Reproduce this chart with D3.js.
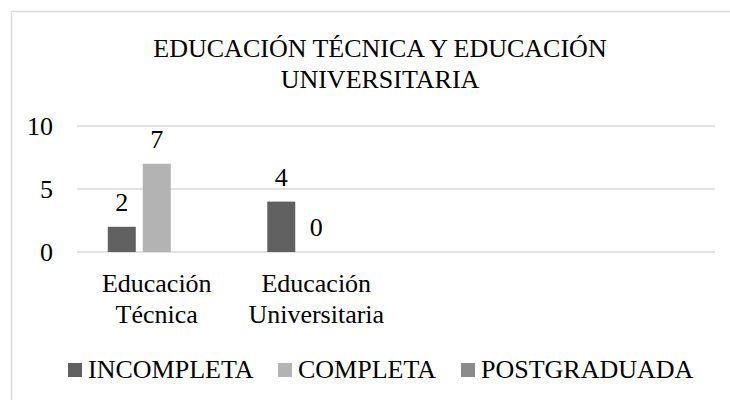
<!DOCTYPE html>
<html>
<head>
<meta charset="utf-8">
<script src="https://cdn.jsdelivr.net/npm/d3@7"></script>
</head>
<body style="margin:0">
<script>
// data
var titleLines = ['EDUCACIÓN TÉCNICA Y EDUCACIÓN', 'UNIVERSITARIA'];
var categories = ['Educación Técnica', 'Educación Universitaria', '', ''];
var seriesNames = ['INCOMPLETA', 'COMPLETA', 'POSTGRADUADA'];
var incompleta = [2, 4, null, null];
var completa = [7, 0, null, null];
var postgraduada = [null, null, null, null];
var yTicks = [0, 5, 10];

var seriesColors = ['#606060', '#b3b3b3', '#8b8b8b'];
var seriesValues = [incompleta, completa, postgraduada];

var width = 730;
var height = 400;
var fontSize = '26px';
var fontFamily = '"Liberation Serif"';

var svg = d3.select('body').append('svg')
  .attr('width', width)
  .attr('height', height);

// put the serif font on every text element
function serif(sel) {
  sel.attr('font-family', 'Liberation Serif')
    .style('font-family', fontFamily)
    .style('font-size', fontSize);
}

// chart frame (cropped on the right like the original)
svg.append('rect')
  .attr('x', 11.5)
  .attr('y', 11.5)
  .attr('width', 737)
  .attr('height', 400)
  .style('fill', '#fff')
  .style('stroke', '#d9d9d9')
  .style('stroke-width', 1.5);

var centerX = 11.5 + 737 / 2;

// title
svg.selectAll('text.title')
  .data(titleLines)
  .enter()
  .append('text')
  .attr('class', 'title')
  .attr('x', centerX)
  .attr('y', function (d, i) { return 57 + i * 31; })
  .attr('text-anchor', 'middle')
  .call(serif)
  .text(function (d) { return d; });

var plot = { left: 77, right: 715, top: 126, bottom: 252 };

var y = d3.scaleLinear()
  .domain([0, 10])
  .range([plot.bottom, plot.top]);

var x0 = d3.scaleBand()
  .domain(d3.range(categories.length))
  .range([plot.left, plot.right]);

var x1 = d3.scaleBand()
  .domain(seriesNames)
  .range([0, x0.bandwidth()])
  .paddingInner(0.2)
  .paddingOuter(0.88);

// gridlines
svg.selectAll('line.grid')
  .data(yTicks)
  .enter()
  .append('line')
  .attr('class', 'grid')
  .attr('x1', plot.left)
  .attr('x2', plot.right)
  .attr('y1', function (d) { return y(d); })
  .attr('y2', function (d) { return y(d); })
  .style('stroke', '#d9d9d9')
  .style('stroke-width', 1.5);

// y labels
svg.selectAll('text.ytick')
  .data(yTicks)
  .enter()
  .append('text')
  .attr('class', 'ytick')
  .attr('x', 53)
  .attr('y', function (d) { return y(d) + 9; })
  .attr('text-anchor', 'end')
  .call(serif)
  .text(function (d) { return d; });

// bars
var cells = [];
seriesNames.forEach(function (s, si) {
  categories.forEach(function (c, ci) {
    var v = seriesValues[si][ci];
    if (v !== null) cells.push({ series: s, si: si, ci: ci, value: v });
  });
});

svg.selectAll('rect.bar')
  .data(cells)
  .enter()
  .append('rect')
  .attr('class', 'bar')
  .attr('x', function (d) { return x0(d.ci) + x1(d.series); })
  .attr('y', function (d) { return y(d.value); })
  .attr('width', x1.bandwidth())
  .attr('height', function (d) { return y(0) - y(d.value); })
  .style('fill', function (d) { return seriesColors[d.si]; });

// value labels
svg.selectAll('text.val')
  .data(cells)
  .enter()
  .append('text')
  .attr('class', 'val')
  .attr('x', function (d) { return x0(d.ci) + x1(d.series) + x1.bandwidth() / 2; })
  .attr('y', function (d) { return y(d.value) - 16; })
  .attr('text-anchor', 'middle')
  .call(serif)
  .text(function (d) { return d.value; });

// category labels, wrapped on spaces (one text per line)
var catLines = [];
categories.forEach(function (c, ci) {
  c.split(' ').forEach(function (w, wi) {
    if (w) catLines.push({ ci: ci, line: wi, word: w });
  });
});
svg.selectAll('text.cat')
  .data(catLines)
  .enter()
  .append('text')
  .attr('class', 'cat')
  .attr('x', function (d) { return x0(d.ci) + x0.bandwidth() / 2; })
  .attr('y', function (d) { return 292 + d.line * 31; })
  .attr('text-anchor', 'middle')
  .call(serif)
  .text(function (d) { return d.word; });

// legend
var legendX = [68, 278, 461];
svg.selectAll('rect.key')
  .data(seriesNames)
  .enter()
  .append('rect')
  .attr('class', 'key')
  .attr('x', function (d, i) { return legendX[i]; })
  .attr('y', 363)
  .attr('width', 14)
  .attr('height', 14)
  .style('fill', function (d, i) { return seriesColors[i]; });
svg.selectAll('text.key')
  .data(seriesNames)
  .enter()
  .append('text')
  .attr('class', 'key')
  .attr('x', function (d, i) { return legendX[i] + 20; })
  .attr('y', 378)
  .call(serif)
  .text(function (d) { return d; });
</script>
</body>
</html>
